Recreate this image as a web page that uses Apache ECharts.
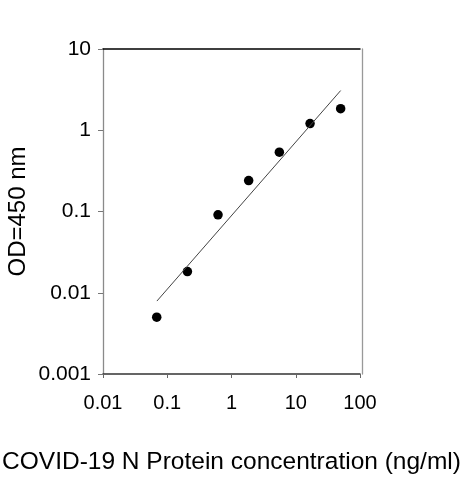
<!DOCTYPE html>
<html>
<head>
<meta charset="utf-8">
<script src="https://cdn.jsdelivr.net/npm/echarts@6/dist/echarts.min.js"></script>
<style>
    html, body { margin: 0; padding: 0; background: #fff; }
    #main { width: 463px; height: 480px; }
</style>
</head>
<body>
<div id="main"></div>
<script>
// 浓度 (ng/ml) 与 OD 读数
var concentration = [0.0686, 0.206, 0.617, 1.85, 5.56, 16.7, 50];
var odValues = [0.005, 0.0182, 0.091, 0.24, 0.537, 1.21, 1.84];
// 拟合直线两端
var fitX = [0.069, 50];
var fitY = [0.0079, 3.08];
// 刻度文字
var xTickLabels = ['0.01', '0.1', '1', '10', '100'];
var yTickLabels = ['0.001', '0.01', '0.1', '1', '10'];

var font = 'Liberation Sans, Arial, sans-serif';

function tickText(labels, min) {
    return function (value) {
        var idx = Math.round(Math.log(value / min) / Math.LN10);
        return labels[idx] !== undefined ? labels[idx] : '';
    };
}

function pairs(xs, ys) {
    var arr = [];
    for (var i = 0; i < xs.length; i++) {
        arr.push([xs[i], ys[i]]);
    }
    return arr;
}

var chart = echarts.init(document.getElementById('main'));
var option = {
    animation: false,
    backgroundColor: '#fff',
    grid: { left: 103, right: 103, top: 49, bottom: 106, outerBoundsMode: 'none', containLabel: false },
    xAxis: [{
        type: 'log',
        logBase: 10,
        min: 0.01,
        max: 100,
        name: 'COVID-19 N Protein concentration (ng/ml)',
        nameLocation: 'middle',
        nameGap: 76,
        nameTextStyle: { fontFamily: font, fontSize: 24.5, color: '#000' },
        axisLine: { onZero: false, lineStyle: { color: '#333', width: 1.5 } },
        axisTick: { show: true, length: 4, lineStyle: { color: '#666' } },
        minorTick: { show: false },
        splitLine: { show: false },
        axisLabel: {
            margin: 19,
            fontFamily: font, fontSize: 20, color: '#000',
            formatter: tickText(xTickLabels, 0.01)
        }
    }, {
        type: 'log',
        logBase: 10,
        min: 0.01,
        max: 100,
        position: 'top',
        axisLine: { onZero: false, lineStyle: { color: '#000', width: 1.5 } },
        axisTick: { show: false },
        axisLabel: { show: false },
        splitLine: { show: false }
    }],
    yAxis: [{
        type: 'log',
        logBase: 10,
        min: 0.001,
        max: 10,
        name: 'OD=450 nm',
        nameLocation: 'middle',
        nameRotate: 90,
        nameGap: 73,
        nameMoveOverlap: false,
        nameTextStyle: { fontFamily: font, fontSize: 24, color: '#000' },
        axisLine: { onZero: false, lineStyle: { color: '#8a8a8a', width: 1.3 } },
        axisTick: { show: true, length: 5, lineStyle: { color: '#777' } },
        splitLine: { show: false },
        axisLabel: {
            margin: 12,
            fontFamily: font, fontSize: 21, color: '#000',
            formatter: tickText(yTickLabels, 0.001)
        }
    }, {
        type: 'log',
        logBase: 10,
        min: 0.001,
        max: 10,
        position: 'right',
        offset: 2.5,
        axisLine: { onZero: false, lineStyle: { color: '#999', width: 1.3 } },
        axisTick: { show: false },
        axisLabel: { show: false },
        splitLine: { show: false }
    }],
    series: [{
        type: 'line',
        data: pairs(fitX, fitY),
        symbol: 'none',
        lineStyle: { color: '#444', width: 1 },
        silent: true
    }, {
        type: 'scatter',
        data: pairs(concentration, odValues),
        symbol: 'circle',
        symbolSize: 9.5,
        itemStyle: { color: '#000', opacity: 1 }
    }]
};
chart.setOption(option);
</script>
</body>
</html>
